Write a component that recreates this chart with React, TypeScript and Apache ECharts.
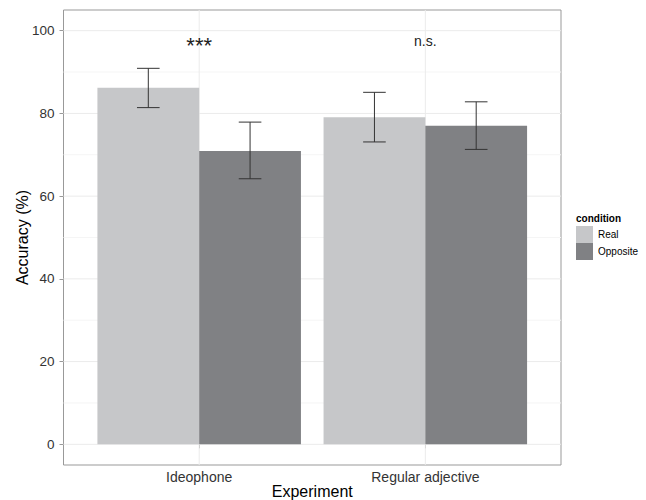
import React, { useEffect, useRef } from "react";
import * as echarts from "echarts";

const categories = ["Ideophone", "Regular adjective"];
const conditions = ["Real", "Opposite"];
const realValues = [86.2, 79.1];
const oppositeValues = [70.9, 77.0];
const realLow = [81.4, 73.1];
const realHigh = [90.9, 85.1];
const oppLow = [64.2, 71.3];
const oppHigh = [77.9, 82.8];
const yTicks = [0, 20, 40, 60, 80, 100];
const yMinor = [10, 30, 50, 70, 90];
const annotations = ["***", "n.s."];
const annotationY = [96.5, 97.4];

const DODGE = 0.225;
const BAR_W = 0.45;
const CAP_W = 0.1;
const FONT = "Liberation Sans, Arial, Helvetica, sans-serif";
const REAL_COLOR = "#c6c7c9";
const OPP_COLOR = "#808184";

export default function App() {
  const ref = useRef<HTMLDivElement>(null);
  useEffect(() => {
    if (!ref.current) return;
    const chart = echarts.init(ref.current, null, { renderer: "svg" });

    const barRender = (color: string) => (params: any, api: any) => {
      const x = api.value(0);
      const y = api.value(1);
      const tl = api.coord([x - BAR_W / 2, y]);
      const br = api.coord([x + BAR_W / 2, 0]);
      return {
        type: "rect",
        shape: { x: tl[0], y: tl[1], width: br[0] - tl[0], height: br[1] - tl[1] },
        style: { fill: color },
      };
    };

    const hLineRender = (color: string) => (params: any, api: any) => {
      const cs = params.coordSys;
      const p = api.coord([1, api.value(1)]);
      return {
        type: "line",
        silent: true,
        shape: { x1: cs.x, y1: p[1], x2: cs.x + cs.width, y2: p[1] },
        style: { stroke: color, lineWidth: 1 },
      };
    };

    const option: any = {
      animation: false,
      textStyle: { fontFamily: FONT },
      grid: {
        left: 63.5,
        top: 10,
        right: 85,
        bottom: 35,
        containLabel: false,
        outerBoundsMode: "none",
        show: true,
        borderColor: "#999",
        borderWidth: 1,
        backgroundColor: "transparent",
      },
      legend: {
        data: conditions,
        orient: "vertical",
        left: 576,
        top: 226,
        itemWidth: 17,
        itemHeight: 17,
        itemGap: 0,
        icon: "rect",
        padding: 0,
        textStyle: { fontSize: 10, color: "#000", fontFamily: FONT },
      },
      graphic: [
        {
          type: "text",
          left: 576,
          top: 213,
          style: { text: "condition", font: `bold 10px ${FONT}`, fill: "#000" },
        },
      ],
      xAxis: {
        type: "value",
        min: 0.4,
        max: 2.6,
        name: "Experiment",
        nameLocation: "middle",
        nameGap: 18,
        nameMoveOverlap: false,
        nameTextStyle: { fontSize: 16, color: "#000" },
        axisLine: { show: false },
        splitLine: { show: false },
        axisTick: {
          show: true,
          customValues: [1, 2],
          length: 4,
          lineStyle: { color: "#999" },
        },
        axisLabel: {
          customValues: [1, 2],
          fontSize: 14,
          color: "#333",
          margin: 5,
          formatter: (v: number) => categories[Math.round(v) - 1] ?? "",
        },
      },
      yAxis: {
        type: "value",
        min: -5,
        max: 105,
        name: "Accuracy (%)",
        nameLocation: "middle",
        nameGap: 33,
        nameMoveOverlap: false,
        nameTextStyle: { fontSize: 16, color: "#000" },
        axisLine: { show: false },
        splitLine: { show: false },
        axisTick: {
          show: true,
          customValues: yTicks,
          length: 4,
          lineStyle: { color: "#999" },
        },
        axisLabel: {
          customValues: yTicks,
          fontSize: 13.5,
          color: "#333",
          margin: 9,
        },
      },
      series: [
        {
          type: "custom",
          name: "minorGrid",
          silent: true,
          renderItem: hLineRender("#f5f5f5"),
          data: yMinor.map((v) => [1, v]),
          encode: { x: 0, y: 1 },
          z: 1,
        },
        {
          type: "custom",
          name: "majorGrid",
          silent: true,
          renderItem: hLineRender("#ebebeb"),
          data: yTicks.map((v) => [1, v]),
          encode: { x: 0, y: 1 },
          z: 1,
        },
        {
          type: "custom",
          name: "vGrid",
          silent: true,
          renderItem: (params: any, api: any) => {
            const cs = params.coordSys;
            const p = api.coord([api.value(0), 0]);
            return {
              type: "line",
              shape: { x1: p[0], y1: cs.y, x2: p[0], y2: cs.y + cs.height },
              style: { stroke: "#ebebeb", lineWidth: 1 },
            };
          },
          data: categories.map((c, i) => [i + 1, 0]),
          encode: { x: 0, y: 1 },
          z: 1,
        },
        {
          type: "custom",
          name: "Real",
          itemStyle: { color: REAL_COLOR },
          renderItem: barRender(REAL_COLOR),
          data: realValues.map((v, i) => [i + 1 - DODGE, v]),
          encode: { x: 0, y: 1 },
          z: 2,
        },
        {
          type: "custom",
          name: "Opposite",
          itemStyle: { color: OPP_COLOR },
          renderItem: barRender(OPP_COLOR),
          data: oppositeValues.map((v, i) => [i + 1 + DODGE, v]),
          encode: { x: 0, y: 1 },
          z: 2,
        },
        {
          type: "custom",
          name: "errorbars",
          silent: true,
          renderItem: (params: any, api: any) => {
            const x = api.value(0);
            const lo = api.value(1);
            const hi = api.value(2);
            const a = api.coord([x - CAP_W / 2, hi]);
            const b = api.coord([x + CAP_W / 2, lo]);
            const c = api.coord([x, 0]);
            const style = { stroke: "#333", lineWidth: 1 };
            return {
              type: "group",
              children: [
                { type: "line", shape: { x1: a[0], y1: a[1], x2: b[0], y2: a[1] }, style },
                { type: "line", shape: { x1: a[0], y1: b[1], x2: b[0], y2: b[1] }, style },
                { type: "line", shape: { x1: c[0], y1: a[1], x2: c[0], y2: b[1] }, style },
              ],
            };
          },
          data: [
            ...realLow.map((lo, i) => [i + 1 - DODGE, lo, realHigh[i]]),
            ...oppLow.map((lo, i) => [i + 1 + DODGE, lo, oppHigh[i]]),
          ],
          encode: { x: 0, y: [1, 2] },
          z: 3,
        },
        {
          type: "custom",
          name: "annotations",
          silent: true,
          renderItem: (params: any, api: any) => {
            const p = api.coord([api.value(0), api.value(1)]);
            const label = annotations[params.dataIndex];
            return {
              type: "text",
              x: p[0],
              y: p[1],
              style: {
                text: label,
                fill: "#222",
                font: `${label === "***" ? 22 : 14}px ${FONT}`,
                align: "center",
                verticalAlign: "middle",
              },
            };
          },
          data: annotationY.map((y, i) => [i + 1, y]),
          encode: { x: 0, y: 1 },
          z: 3,
        },
      ],
    };
    chart.setOption(option);
    return () => chart.dispose();
  }, []);

  return (
    <div
      ref={ref}
      style={{ position: "fixed", left: 0, top: 0, width: 646, height: 500, background: "#fff" }}
    />
  );
}
